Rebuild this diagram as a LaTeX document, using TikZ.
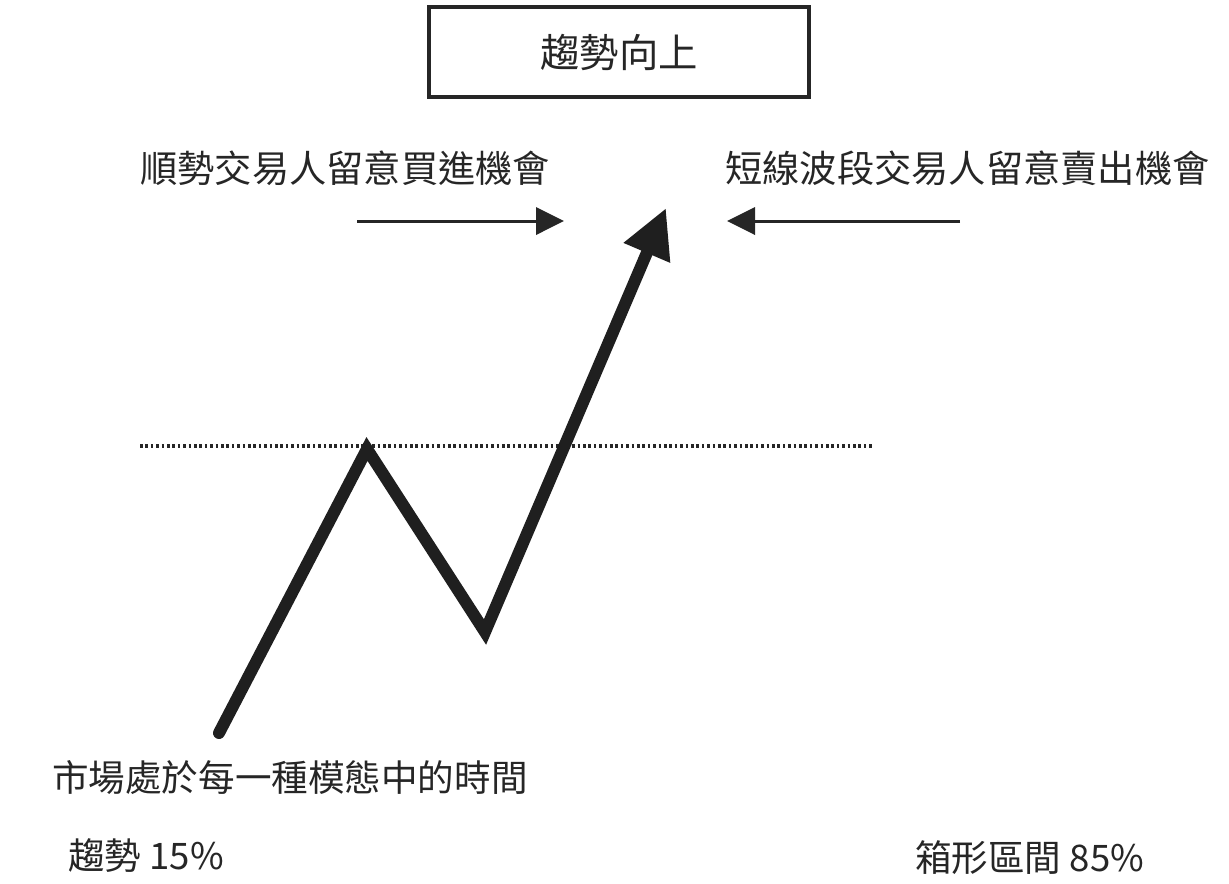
\documentclass[tikz,border=0pt]{standalone}
\usepackage{fontspec}
\usepackage{xcolor}
\usepackage{tikz}
\usetikzlibrary{arrows.meta}
\newfontfamily\cjk{Noto Sans CJK TC}

\begin{document}
\begin{tikzpicture}[x=0.025cm, y=-0.025cm,
        lbl/.style={inner sep=0pt, text=black!85, font=\cjk\fontsize{26.5}{30}\selectfont},
        note/.style={lbl, font=\cjk\fontsize{26}{30}\selectfont},
        hint/.style={line width=0.075cm, draw=black!85, -{Triangle[length=0.7cm, width=0.68cm]}},
        trend/.style={line width=0.3cm, draw=black!88, line cap=round, line join=miter,
            -{Triangle[length=1.22cm, width=1.18cm]}}]

        \useasboundingbox (0,0) rectangle (1229,883);

        % Title
        \node[draw=black!85, line width=0.08cm, minimum width=9.5cm, minimum height=2.25cm,
            inner sep=0pt, text=black!85, font=\cjk\fontsize{28}{32}\selectfont] (title) at (619,52) {趨勢向上};

        % Labels over the hint arrows
        \node[lbl, anchor=west] (buy) at (140,168) {順勢交易人留意買進機會};
        \node[lbl, anchor=west] (sell) at (725,168) {短線波段交易人留意賣出機會};

        % Hint arrows
        \coordinate (buyA) at (357,221);
        \coordinate (buyB) at (564,221);
        \coordinate (sellA) at (960,221);
        \coordinate (sellB) at (727,221);
        \foreach \a/\b in {buyA/buyB, sellA/sellB}
            \draw[hint] (\a) -- (\b);

        % Breakout level
        \coordinate (lvlL) at (140,446);
        \coordinate (lvlR) at (872,446);
        \draw[line width=0.085cm, black!85, dash pattern=on 0.065cm off 0.07cm] (lvlL) -- (lvlR);

        % Price path
        \coordinate (p0) at (219,733);
        \coordinate (p1) at (367,449);
        \coordinate (p2) at (485,632);
        \coordinate (p3) at (666,208);
        \draw[trend] (p0) -- (p1) -- (p2) -- (p3);

        % Time shares
        \node[note, anchor=west] (share) at (52,778) {市場處於每一種模態中的時間};
        \node[note, anchor=west] (trendpct) at (68,856) {趨勢 15\%};
        \node[note, anchor=west] (rangepct) at (915,858) {箱形區間 85\%};

    \end{tikzpicture}
\end{document}
